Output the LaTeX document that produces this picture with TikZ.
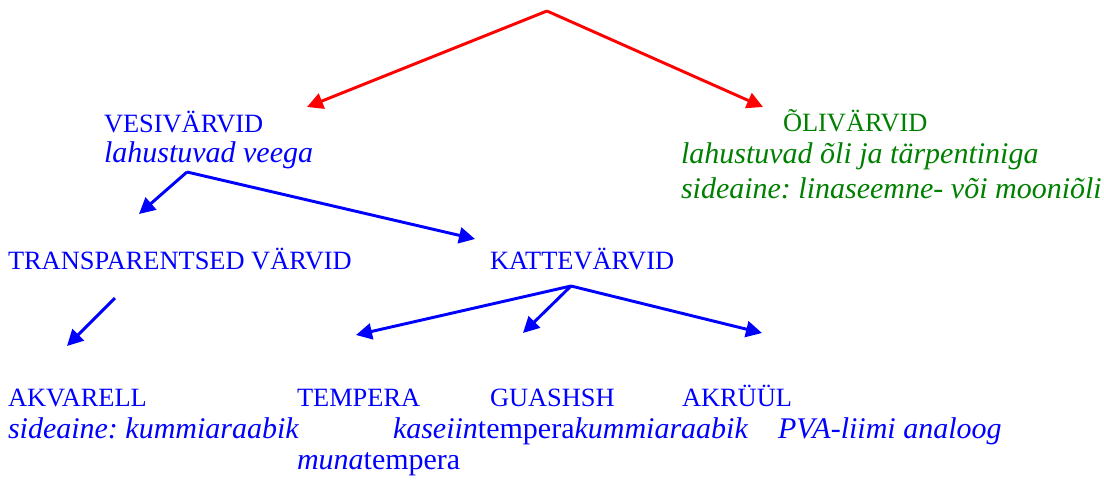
\documentclass[tikz,border=0pt]{standalone}
\usepackage{fontspec}
\setmainfont{Liberation Serif}[ItalicFont={Liberation Serif Italic}]
\usetikzlibrary{arrows.meta}
\definecolor{blu}{RGB}{0,0,255}
\definecolor{grn}{RGB}{0,128,0}
\definecolor{rd}{RGB}{255,0,0}
\frenchspacing
\begin{document}
\begin{tikzpicture}[x=0.75pt,y=-0.75pt,
  lbl/.style={anchor=base west, inner sep=0pt, outer sep=0pt, font=\fontsize{19.8}{23}\selectfont},
  ital/.style={anchor=base west, inner sep=0pt, outer sep=0pt, font=\fontsize{22.5}{27}\selectfont\itshape},
  conn/.style={line width=2.2pt, -{Triangle[length=12pt,width=12pt]}},
  redconn/.style={conn, draw=rd, fill=rd},
  blueconn/.style={conn, draw=blu, fill=blu}]
\useasboundingbox (0,0) rectangle (1104,479);

% texts
\node[lbl, text=blu] (vesi) at (104,132) {VESIVÄRVID};
\node[ital, text=blu] (vesiA) at (104,162) {lahustuvad veega};
\node[lbl, text=grn] (oli) at (783,131) {ÕLIVÄRVID};
\node[ital, text=grn] (oliA) at (681,163) {lahustuvad õli ja tärpentiniga};
\node[ital, text=grn] (oliB) at (681,198) {sideaine: linaseemne- või mooniõli};
\node[lbl, text=blu] (trans) at (8,269) {TRANSPARENTSED VÄRVID};
\node[lbl, text=blu] (katte) at (490,269) {KATTEVÄRVID};
\node[lbl, text=blu] (akv) at (8,406) {AKVARELL};
\node[lbl, text=blu] (temp) at (297,406) {TEMPERA};
\node[lbl, text=blu] (guas) at (490,406) {GUASHSH};
\node[lbl, text=blu] (akr) at (682,406) {AKRÜÜL};
\node[ital, text=blu] (akvA) at (8,438) {sideaine: kummiaraabik};
\node[ital, text=blu] (tempA) at (393,438) {kaseiin\upshape tempera};
\node[ital, text=blu] (guasA) at (tempA.base east) {kummiaraabik};
\node[ital, text=blu] (akrA) at (778,438) {PVA-liimi analoog};
\node[ital, text=blu] (tempB) at (297,469) {muna\upshape tempera};

% connector points
\coordinate (top) at (547,11);
\coordinate (tipV) at (307,107);
\coordinate (tipO) at (763,107);
\coordinate (vsrc) at (187,172);
\coordinate (tipT) at (139,214);
\coordinate (tipK) at (475,239);
\coordinate (tsrc) at (115,298);
\coordinate (tipA) at (67,346);
\coordinate (ksrc) at (571,286);
\coordinate (tipTe) at (356,335);
\coordinate (tipG) at (523,333);
\coordinate (tipAk) at (762,333);

\draw[redconn] (top) -- (tipV);
\draw[redconn] (top) -- (tipO);
\draw[blueconn] (vsrc) -- (tipT);
\draw[blueconn] (vsrc) -- (tipK);
\draw[blueconn] (tsrc) -- (tipA);
\draw[blueconn] (ksrc) -- (tipTe);
\draw[blueconn] (ksrc) -- (tipG);
\draw[blueconn] (ksrc) -- (tipAk);
\end{tikzpicture}
\end{document}
